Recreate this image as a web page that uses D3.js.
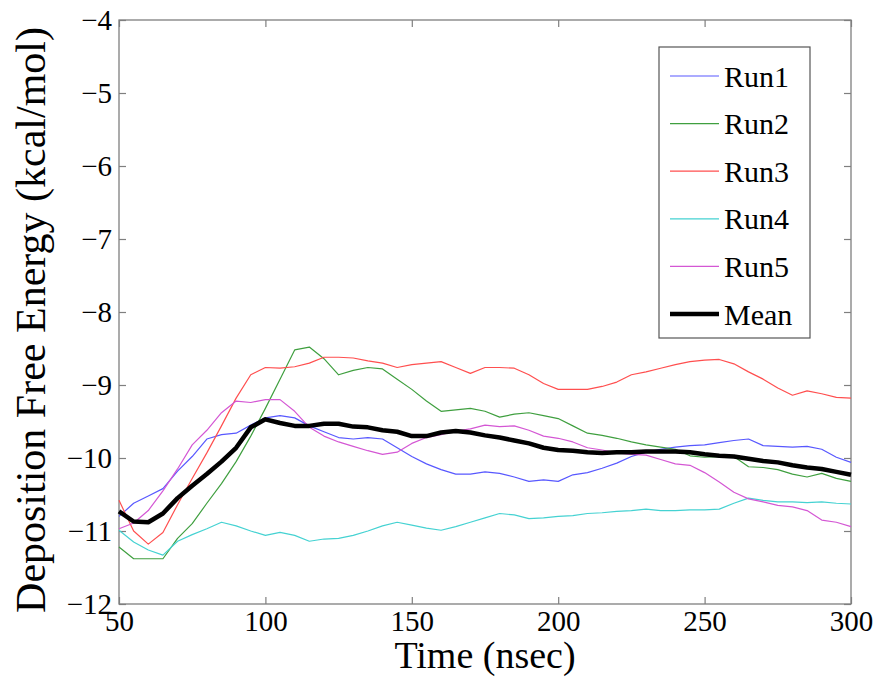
<!DOCTYPE html>
<html>
<head>
<meta charset="utf-8">
<script src="https://cdn.jsdelivr.net/npm/d3@7"></script>
<style>
  body { margin: 0; background: #fff; }
  text { font-family: "Liberation Serif", "DejaVu Serif", serif; fill: #000; }
</style>
</head>
<body>
<div id="chart"></div>
<script>
// time grid (nsec)
var time = d3.range(50, 301, 5);

var run1 = [-10.80, -10.62, -10.52, -10.42, -10.18, -9.98, -9.74, -9.68, -9.66, -9.55, -9.45, -9.42, -9.45, -9.56, -9.64, -9.72, -9.74, -9.72, -9.74, -9.86, -9.98, -10.08, -10.16, -10.22, -10.22, -10.19, -10.21, -10.26, -10.32, -10.30, -10.32, -10.23, -10.20, -10.14, -10.07, -9.98, -9.92, -9.88, -9.85, -9.83, -9.82, -9.79, -9.76, -9.74, -9.83, -9.84, -9.85, -9.84, -9.88, -9.99, -10.06];
var run2 = [-11.22, -11.38, -11.38, -11.38, -11.10, -10.90, -10.62, -10.35, -10.05, -9.70, -9.32, -8.92, -8.52, -8.48, -8.64, -8.86, -8.80, -8.76, -8.78, -8.92, -9.06, -9.22, -9.36, -9.34, -9.32, -9.36, -9.44, -9.40, -9.38, -9.42, -9.46, -9.56, -9.66, -9.69, -9.73, -9.78, -9.82, -9.85, -9.88, -9.97, -9.99, -9.98, -9.98, -10.12, -10.13, -10.16, -10.22, -10.26, -10.21, -10.28, -10.32];
var run3 = [-10.58, -11.00, -11.18, -11.02, -10.64, -10.28, -9.93, -9.56, -9.18, -8.86, -8.76, -8.77, -8.75, -8.70, -8.62, -8.62, -8.63, -8.67, -8.70, -8.76, -8.72, -8.70, -8.68, -8.76, -8.84, -8.76, -8.76, -8.77, -8.86, -8.98, -9.06, -9.06, -9.06, -9.02, -8.96, -8.86, -8.82, -8.77, -8.72, -8.68, -8.66, -8.65, -8.71, -8.82, -8.92, -9.04, -9.14, -9.08, -9.12, -9.17, -9.18];
var run4 = [-10.99, -11.15, -11.26, -11.33, -11.14, -11.05, -10.97, -10.88, -10.93, -11.00, -11.06, -11.02, -11.06, -11.14, -11.11, -11.10, -11.06, -11.00, -10.93, -10.88, -10.92, -10.96, -10.99, -10.94, -10.88, -10.82, -10.76, -10.78, -10.83, -10.82, -10.80, -10.79, -10.76, -10.75, -10.73, -10.72, -10.70, -10.72, -10.72, -10.71, -10.71, -10.70, -10.62, -10.55, -10.58, -10.60, -10.60, -10.61, -10.60, -10.62, -10.63];
var run5 = [-10.97, -10.89, -10.72, -10.45, -10.15, -9.82, -9.62, -9.38, -9.22, -9.24, -9.20, -9.20, -9.36, -9.58, -9.70, -9.78, -9.84, -9.90, -9.95, -9.92, -9.80, -9.72, -9.68, -9.63, -9.60, -9.55, -9.57, -9.56, -9.62, -9.70, -9.73, -9.78, -9.86, -9.89, -9.93, -9.95, -9.96, -10.02, -10.08, -10.10, -10.20, -10.33, -10.47, -10.56, -10.60, -10.65, -10.67, -10.72, -10.85, -10.88, -10.94];
var mean = [-10.73, -10.87, -10.88, -10.76, -10.55, -10.38, -10.22, -10.05, -9.86, -9.58, -9.47, -9.52, -9.56, -9.56, -9.53, -9.53, -9.57, -9.58, -9.62, -9.64, -9.70, -9.70, -9.65, -9.63, -9.65, -9.69, -9.72, -9.76, -9.80, -9.86, -9.89, -9.90, -9.92, -9.93, -9.92, -9.92, -9.91, -9.91, -9.91, -9.92, -9.95, -9.97, -9.98, -10.01, -10.04, -10.06, -10.10, -10.13, -10.15, -10.19, -10.23];

var seriesNames = ["Run1", "Run2", "Run3", "Run4", "Run5", "Mean"];
var seriesColors = ["#5858ff", "#3f9f3f", "#ff4f4f", "#45d2d2", "#d457d4", "#000000"];
var xTicks = [50, 100, 150, 200, 250, 300];
var yTicks = [-12, -11, -10, -9, -8, -7, -6, -5, -4];

var svgWidth = 881;
var svgHeight = 678;

var margin = { top: 20, right: 30, bottom: 74, left: 119 };
var width = svgWidth - margin.left - margin.right;
var height = svgHeight - margin.top - margin.bottom;

var svg = d3.select("#chart")
  .append("svg")
  .attr("width", svgWidth)
  .attr("height", svgHeight);

var chartGroup = svg.append("g")
  .attr("transform", `translate(${margin.left}, ${margin.top})`);

var xScale = d3.scaleLinear().domain([50, 300]).range([0, width]);
var yScale = d3.scaleLinear().domain([-12, -4]).range([height, 0]);

// box
chartGroup.append("rect")
  .attr("width", width)
  .attr("height", height)
  .attr("fill", "none")
  .attr("stroke", "#7f7f7f")
  .attr("stroke-width", 1.3);

// ticks on all sides, pointing in
var tickLen = 7;
var fmt = d => d3.format("")(d).replace("-", "\u2212");

chartGroup.append("g")
  .attr("transform", `translate(0, ${height})`)
  .call(d3.axisBottom(xScale).tickValues(xTicks).tickSize(-tickLen).tickPadding(6).tickFormat(fmt));
chartGroup.append("g")
  .call(d3.axisTop(xScale).tickValues(xTicks).tickSize(-tickLen).tickFormat(""));
chartGroup.append("g")
  .call(d3.axisLeft(yScale).tickValues(yTicks).tickSize(-tickLen).tickPadding(7).tickFormat(fmt));
chartGroup.append("g")
  .attr("transform", `translate(${width}, 0)`)
  .call(d3.axisRight(yScale).tickValues(yTicks).tickSize(-tickLen).tickFormat(""));

chartGroup.selectAll(".domain").remove();
chartGroup.selectAll(".tick line").attr("stroke", "#7f7f7f").attr("stroke-width", 1.2);
chartGroup.selectAll(".tick text")
  .style("font-family", "'Liberation Serif', serif")
  .style("font-size", "29px")
  .attr("fill", "#000");

// lines
var allSeries = [run1, run2, run3, run4, run5, mean];
var line = d3.line()
  .x((d, i) => xScale(time[i]))
  .y(d => yScale(d));

allSeries.forEach((s, k) => {
  chartGroup.append("path")
    .datum(s)
    .attr("fill", "none")
    .attr("stroke", seriesColors[k])
    .attr("stroke-width", k === 5 ? 4.5 : 1.2)
    .attr("stroke-linejoin", "round")
    .attr("d", line);
});

// legend
var legend = svg.append("g").attr("transform", "translate(659, 47)");
legend.append("rect")
  .attr("width", 151)
  .attr("height", 291)
  .attr("fill", "#fff")
  .attr("stroke", "#555")
  .attr("stroke-width", 1.2);

seriesNames.forEach((name, k) => {
  var yy = 29 + k * 47.6;
  legend.append("line")
    .attr("x1", 11).attr("x2", 60)
    .attr("y1", yy).attr("y2", yy)
    .attr("stroke", seriesColors[k])
    .attr("stroke-width", k === 5 ? 4.5 : 1.2);
  legend.append("text")
    .attr("x", 65)
    .attr("y", yy)
    .attr("dy", "0.35em")
    .style("font-size", "30px")
    .text(name);
});

// axis titles
svg.append("text")
  .attr("x", 485)
  .attr("y", 668)
  .attr("text-anchor", "middle")
  .style("font-size", "38px")
  .text("Time (nsec)");

svg.append("text")
  .attr("transform", "translate(45, 320) rotate(-90)")
  .attr("text-anchor", "middle")
  .style("font-size", "42px")
  .text("Deposition Free Energy (kcal/mol)");
</script>
</body>
</html>
